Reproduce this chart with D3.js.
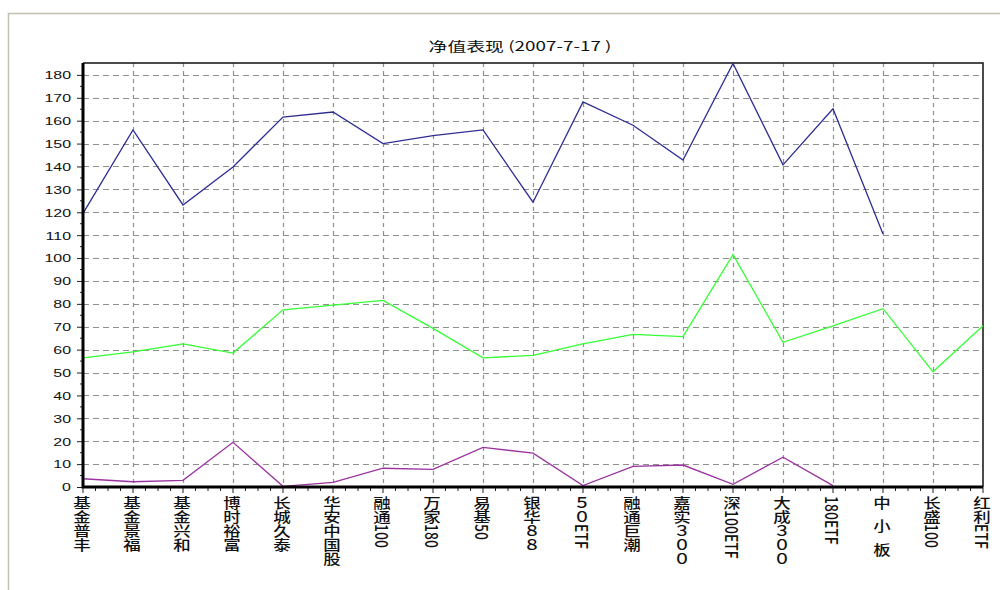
<!DOCTYPE html>
<html>
<head>
<meta charset="utf-8">
<script src="https://cdn.jsdelivr.net/npm/d3@7"></script>
<style>
  body { margin: 0; background: #fff; }
  svg { display: block; }
</style>
</head>
<body>
<div id="chart"></div>
<script>
// fund names, one per x position
const categories = ["基金普丰", "基金景福", "基金兴和", "博时裕富", "长城久泰", "华安中国股",
  "融通100", "万家180", "易基50", "银华８８", "５０ETF", "融通巨潮", "嘉实３００",
  "深100ETF", "大成３００", "180ETF", "中 小 板", "长盛100", "红利ETF"];

// three series (null = no point)
const blueValues = [119.5, 156, 123.2, 139.8, 161.6, 163.8, 150, 153.5, 156, 124.4,
  168.2, 158, 142.8, 185, 140.7, 165.2, 110.5, null, null];
const greenValues = [56.4, 59, 62.5, 58.5, 77.4, 79.4, 81.5, 69.3, 56.4, 57.5,
  62.5, 66.7, 65.7, 101.5, 63.2, 70.4, 77.9, 50.3, 70.4];
const purpleValues = [3.6, 2.3, 2.9, 19.5, 0.3, 2.0, 8.2, 7.7, 17.3, 14.8,
  0.6, 9.0, 9.6, 1.2, 13.0, 0.6, null, null, null];

const yTicks = d3.range(0, 181, 10);
const title = "净值表现 (2007-7-17 )";

const width = 1000, height = 590;
const margin = ({top: 63, right: 17, bottom: 103, left: 83});

const x = d3.scalePoint()
  .domain(categories)
  .range([margin.left, width - margin.right]);
const y = d3.scaleLinear()
  .domain([0, 185.2])
  .range([height - margin.bottom, margin.top]);

const svg = d3.select("#chart")
  .append("svg")
  .attr("width", width)
  .attr("height", height);

// outer panel frame
svg.append("rect")
  .attr("x", 8.5).attr("y", 13.5)
  .attr("width", 1100).attr("height", 700)
  .attr("fill", "none")
  .attr("stroke", "#c4c0b0")
  .attr("stroke-width", 1.5);

svg.append("text")
  .attr("transform", `translate(520,51) scale(1.45,1)`)
  .attr("text-anchor", "middle")
  .attr("font-family", "'Noto Sans CJK SC', 'Liberation Sans', sans-serif")
  .attr("font-size", 13)
  .attr("fill", "#111")
  .text(title);

// grid
const grid = svg.append("g")
  .attr("stroke", "#8f8f8f")
  .attr("stroke-width", 1.2);
grid.selectAll("line.h")
  .data(yTicks.filter(d => d > 0))
  .join("line")
  .attr("class", "h")
  .attr("x1", margin.left).attr("x2", width - margin.right)
  .attr("y1", d => Math.round(y(d)) + 0.5).attr("y2", d => Math.round(y(d)) + 0.5)
  .attr("stroke-dasharray", "6,4");
grid.selectAll("line.v")
  .data(categories.slice(1, -1))
  .join("line")
  .attr("class", "v")
  .attr("x1", d => Math.round(x(d)) + 0.5).attr("x2", d => Math.round(x(d)) + 0.5)
  .attr("y1", margin.top).attr("y2", height - margin.bottom)
  .attr("stroke-dasharray", "4,4");

// top and right border
svg.append("path")
  .attr("d", `M${margin.left},${margin.top}H${width - margin.right}V${height - margin.bottom}`)
  .attr("fill", "none")
  .attr("stroke", "#111")
  .attr("stroke-width", 1.5);

// y axis
const yAxis = svg.append("g")
  .attr("transform", `translate(${margin.left},0)`)
  .call(d3.axisLeft(y).tickValues(yTicks).tickSize(6).tickPadding(6).tickFormat(d3.format("d")))
  .call(g => g.select(".domain").remove());
yAxis.selectAll(".tick line").attr("stroke", "#222");
yAxis.selectAll(".tick text")
  .attr("font-family", "'Liberation Sans', Arial, sans-serif")
  .attr("font-size", 11)
  .attr("fill", "#111")
  .attr("dy", "0.35em")
  .attr("transform", function () {
    const xx = +d3.select(this).attr("x");
    return `translate(${xx},0) scale(1.45,1)`;
  })
  .attr("x", 0);
// minor y ticks
svg.append("g")
  .selectAll("line")
  .data(d3.range(5, 185, 10))
  .join("line")
  .attr("x1", margin.left - 3).attr("x2", margin.left)
  .attr("y1", d => y(d)).attr("y2", d => y(d))
  .attr("stroke", "#222");

// x ticks, major and minor
const xMinor = [];
categories.slice(0, -1).forEach((c, i) => {
  for (let k = 1; k < 4; k++) xMinor.push(x(c) + k * x.step() / 4);
});
svg.append("g")
  .selectAll("line")
  .data(xMinor)
  .join("line")
  .attr("x1", d => d).attr("x2", d => d)
  .attr("y1", height - margin.bottom).attr("y2", height - margin.bottom + 4)
  .attr("stroke", "#222");
svg.append("g")
  .selectAll("line")
  .data(categories)
  .join("line")
  .attr("x1", d => x(d)).attr("x2", d => x(d))
  .attr("y1", height - margin.bottom).attr("y2", height - margin.bottom + 6)
  .attr("stroke", "#222");

// vertical category labels
svg.append("g")
  .selectAll("text")
  .data(categories)
  .join("text")
  .attr("transform", d => `translate(${x(d) - 1},${height - margin.bottom + 9}) scale(1.25,1)`)
  .attr("writing-mode", "vertical-rl")
  .attr("text-anchor", "start")
  .attr("font-family", "'Noto Sans CJK SC', sans-serif")
  .attr("font-size", 14)
  .attr("font-weight", 500)
  .attr("letter-spacing", d => d.includes(" ") ? 3 : 0)
  .attr("fill", "#111")
  .text(d => d);

// series lines
const series = [
  {values: blueValues, color: "#2e2e92"},
  {values: greenValues, color: "#33ff33"},
  {values: purpleValues, color: "#9a33a0"}
];
const line = d3.line()
  .defined(d => d.v != null)
  .x(d => x(d.c))
  .y(d => y(d.v));
svg.append("g")
  .selectAll("path")
  .data(series)
  .join("path")
  .attr("fill", "none")
  .attr("stroke", s => s.color)
  .attr("stroke-width", 1.3)
  .attr("d", s => line(categories.map((c, i) => ({c, v: s.values[i]}))));

// thick left and bottom axis lines
svg.append("path")
  .attr("d", `M${margin.left},${margin.top}V${height - margin.bottom}H${width - margin.right}`)
  .attr("fill", "none")
  .attr("stroke", "#000")
  .attr("stroke-width", 3);
</script>
</body>
</html>
